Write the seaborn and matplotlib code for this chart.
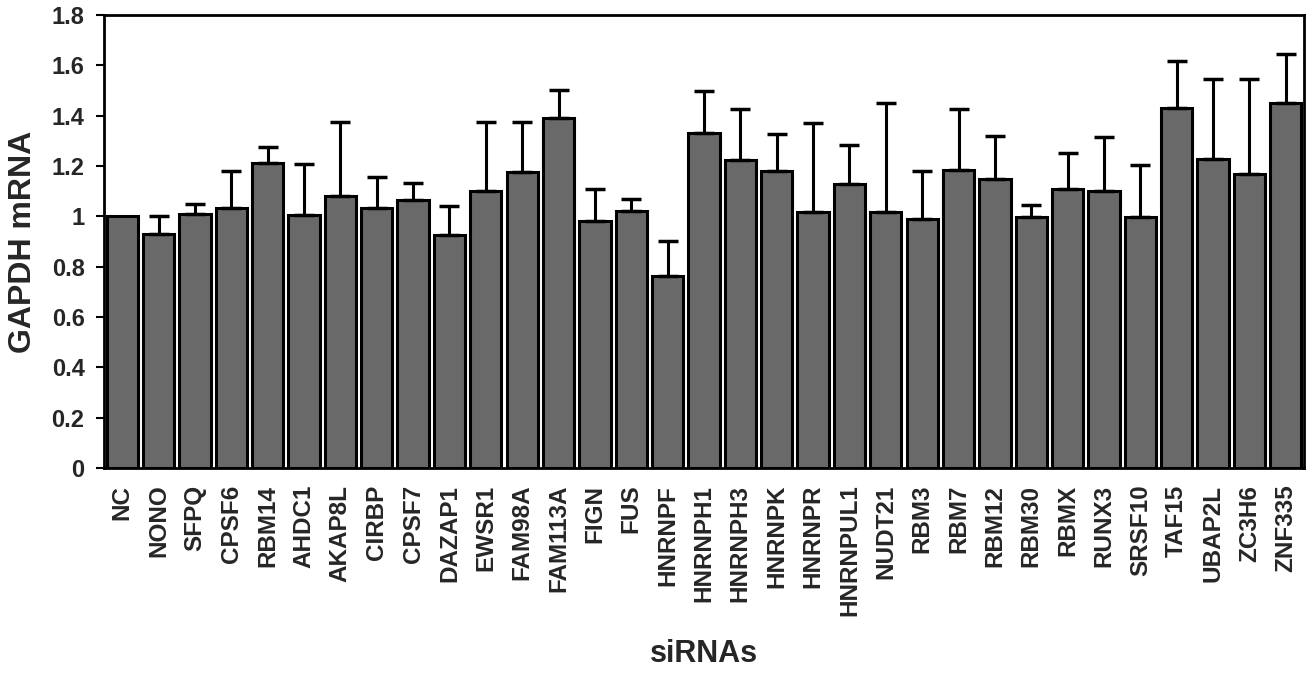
import numpy as np
import pandas as pd
import matplotlib
matplotlib.use("Agg")
import matplotlib.pyplot as plt
import seaborn as sns

# values (mean and upper error-bar end)
sirnas = ["NC", "NONO", "SFPQ", "CPSF6", "RBM14", "AHDC1", "AKAP8L", "CIRBP",
          "CPSF7", "DAZAP1", "EWSR1", "FAM98A", "FAM113A", "FIGN", "FUS",
          "HNRNPF", "HNRNPH1", "HNRNPH3", "HNRNPK", "HNRNPR", "HNRNPUL1",
          "NUDT21", "RBM3", "RBM7", "RBM12", "RBM30", "RBMX", "RUNX3",
          "SRSF10", "TAF15", "UBAP2L", "ZC3H6", "ZNF335"]
means = [1.000, 0.928, 1.009, 1.033, 1.213, 1.005, 1.082, 1.033,
         1.065, 0.926, 1.099, 1.175, 1.391, 0.981, 1.020,
         0.763, 1.331, 1.222, 1.179, 1.016, 1.127,
         1.016, 0.988, 1.185, 1.147, 0.997, 1.108, 1.099,
         0.997, 1.429, 1.228, 1.167, 1.449]
upper = [1.000, 1.002, 1.048, 1.179, 1.277, 1.209, 1.376, 1.157,
         1.131, 1.042, 1.376, 1.376, 1.504, 1.108, 1.067,
         0.901, 1.498, 1.428, 1.326, 1.372, 1.285,
         1.449, 1.181, 1.428, 1.318, 1.046, 1.250, 1.314,
         1.205, 1.618, 1.545, 1.545, 1.647]

df = pd.DataFrame({"siRNA": sirnas, "mRNA": means})
err = np.array(upper) - np.array(means)

sns.set_theme(style="white")
plt.rcParams["font.family"] = ["Liberation Sans", "DejaVu Sans"]
plt.rcParams["font.weight"] = "bold"

fig = plt.figure(figsize=(13.1, 6.74), dpi=100)
ax = fig.add_axes([0.0794, 0.3056, 0.9160, 0.6721])

sns.barplot(data=df, x="siRNA", y="mRNA", color="#696969", saturation=1,
            edgecolor="black", linewidth=2.2, width=0.86, errorbar=None, ax=ax)

# upper error bars only, skip the control
pos = np.arange(len(sirnas))
has = err > 0.001
ax.errorbar(pos[has], np.array(means)[has], yerr=[np.zeros(has.sum()), err[has]],
            fmt="none", ecolor="black", elinewidth=2.2, capsize=7, capthick=2.5,
            zorder=1)

ax.set_ylim(0, 1.8)
ax.set_xlim(-0.5, len(sirnas) - 0.5)
yt = np.arange(0, 1.81, 0.2)
ax.set_yticks(yt)
ax.set_yticklabels([f"{v:g}" for v in np.round(yt, 1)], fontsize=17, fontweight="bold")
ax.set_xticks(pos)
ax.set_xticklabels(sirnas, rotation=90, fontsize=17.5, fontweight="bold")
ax.set_xticks(pos[:-1] + 0.5, minor=True)
ax.tick_params(axis="x", which="major", length=0, pad=12)
ax.tick_params(axis="x", which="minor", direction="in", length=4, width=1, color="gray")
ax.tick_params(axis="y", which="major", direction="out", length=6, width=1.5,
               color="black", left=True, pad=8)

ax.set_ylabel("GAPDH mRNA", fontsize=23, fontweight="bold", labelpad=10)
ax.set_xlabel("siRNAs", fontsize=22, fontweight="bold", labelpad=16)

for s in ax.spines.values():
    s.set_visible(True)
    s.set_color("black")
    s.set_linewidth(2)

fig.savefig("out.png", dpi=100)
